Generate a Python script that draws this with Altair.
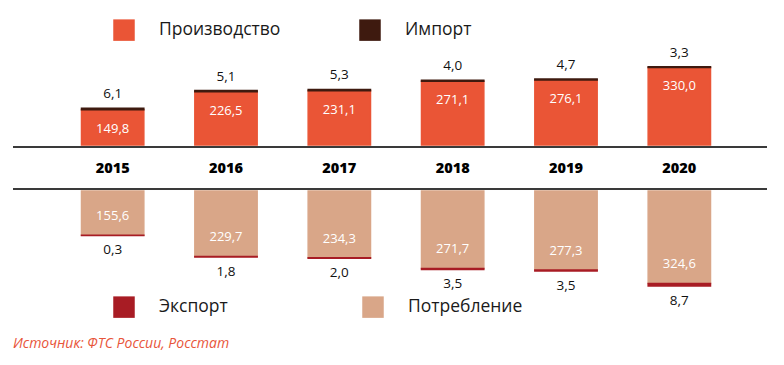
import altair as alt
import pandas as pd

years = ["2015", "2016", "2017", "2018", "2019", "2020"]
production = [149.8, 226.5, 231.1, 271.1, 276.1, 330.0]
imports = [6.1, 5.1, 5.3, 4.0, 4.7, 3.3]
consumption = [155.6, 229.7, 234.3, 271.7, 277.3, 324.6]
exports = [0.3, 1.8, 2.0, 3.5, 3.5, 8.7]

top_names = ["Производство", "Импорт"]
top_colors = ["#EA5536", "#3E1A0F"]
bot_names = ["Экспорт", "Потребление"]
bot_colors = ["#A81C24", "#D9A688"]
source = "Источник: ФТС России, Росстат"

FONT = "Open Sans"
W = 680

top_df = pd.DataFrame({
    "year": years * 2,
    "series": [top_names[0]] * 6 + [top_names[1]] * 6,
    "value": production + imports,
    "k": [0] * 6 + [1] * 6,
})
bot_df = pd.DataFrame({
    "year": years * 2,
    "series": [bot_names[1]] * 6 + [bot_names[0]] * 6,
    "value": consumption + exports,
    "k": [0] * 6 + [1] * 6,
})
lab_df = pd.DataFrame({
    "year": years,
    "production": production,
    "imports": imports,
    "consumption": consumption,
    "exports": exports,
})

fmt = lambda f: f"replace(format(datum.{f}, '.1f'), '.', ',')"

xenc = alt.X("year:N", axis=None, sort=years,
             scale=alt.Scale(paddingInner=0.45, paddingOuter=0.225))


def legend(x, y, cp):
    return alt.Legend(
        title=None, orient="none", legendX=x, legendY=y, direction="horizontal",
        columns=2, columnPadding=cp, symbolType="square", symbolSize=462,
        symbolStrokeWidth=0, symbolOpacity=1, labelOffset=24, padding=0,
        labelFont=FONT, labelFontSize=17.5, labelColor="#1a1a1a", labelLimit=300,
    )


# ---- top panel
ytop = alt.Scale(domain=[0, 583], nice=False, zero=True)
top_bars = alt.Chart(top_df).mark_bar(strokeWidth=1.5).encode(
    x=xenc,
    y=alt.Y("value:Q", stack="zero", scale=ytop, axis=None),
    color=alt.Color("series:N", scale=alt.Scale(domain=top_names, range=top_colors),
                    legend=legend(57, 11, 78)),
    stroke=alt.Stroke("series:N", scale=alt.Scale(domain=top_names, range=top_colors),
                      legend=None),
    order=alt.Order("k:Q"),
)
prod_lab = alt.Chart(lab_df).transform_calculate(t=fmt("production")).mark_text(
    dy=19, color="white", font=FONT, fontSize=13).encode(
    x=xenc, y=alt.Y("production:Q", scale=ytop, axis=None), text="t:N")
imp_lab = alt.Chart(lab_df).transform_calculate(
    t=fmt("imports"), tot="datum.production + datum.imports").mark_text(
    dy=-14, color="#111", font=FONT, fontSize=13.5).encode(
    x=xenc, y=alt.Y("tot:Q", scale=ytop, axis=None), text="t:N")
top = alt.layer(top_bars, prod_lab, imp_lab).properties(width=W, height=137)

# ---- middle panel (years)
one = pd.DataFrame({"a": [0]})
yr = alt.Chart(lab_df).mark_text(font=FONT, fontSize=14.5, fontWeight=800, color="#000").encode(
    x=xenc, y=alt.value(22), text="year:N")
rule1 = alt.Chart(one).mark_rule(color="#3a3a3a", strokeWidth=2).encode(
    x=alt.value(-43), x2=alt.value(711), y=alt.value(0))
rule2 = alt.Chart(one).mark_rule(color="#3a3a3a", strokeWidth=2).encode(
    x=alt.value(-43), x2=alt.value(711), y=alt.value(42))
mid = alt.layer(yr, rule1, rule2).properties(width=W, height=42)

# ---- bottom panel
ybot = alt.Scale(domain=[0, 502], nice=False, zero=True, reverse=True)
bot_bars = alt.Chart(bot_df).mark_bar(strokeWidth=1.5).encode(
    x=xenc,
    y=alt.Y("value:Q", stack="zero", scale=ybot, axis=None),
    color=alt.Color("series:N", scale=alt.Scale(domain=bot_names, range=bot_colors),
                    legend=legend(57, 105, 134)),
    stroke=alt.Stroke("series:N", scale=alt.Scale(domain=bot_names, range=bot_colors),
                      legend=None),
    order=alt.Order("k:Q"),
)
cons_lab = alt.Chart(lab_df).transform_calculate(t=fmt("consumption")).mark_text(
    dy=-19, color="white", font=FONT, fontSize=13).encode(
    x=xenc, y=alt.Y("consumption:Q", scale=ybot, axis=None), text="t:N")
exp_lab = alt.Chart(lab_df).transform_calculate(
    t=fmt("exports"), tot="datum.consumption + datum.exports").mark_text(
    dy=15, color="#111", font=FONT, fontSize=13.5).encode(
    x=xenc, y=alt.Y("tot:Q", scale=ybot, axis=None), text="t:N")
bot = alt.layer(bot_bars, cons_lab, exp_lab).properties(
    width=W, height=143,
    title=alt.TitleParams(source, orient="bottom", anchor="start", dx=-43, offset=3,
                          font=FONT, fontSize=14, fontStyle="italic", fontWeight="normal",
                          color="#E8553A"),
)

chart = alt.vconcat(top, mid, bot, spacing=0).resolve_scale(
    color="independent", stroke="independent", y="independent"
).properties(
    padding={"left": 4, "top": 0, "right": 0, "bottom": 0}
).configure_view(stroke=None)

chart.save("out.html", embed_options={"renderer": "svg", "actions": False})
